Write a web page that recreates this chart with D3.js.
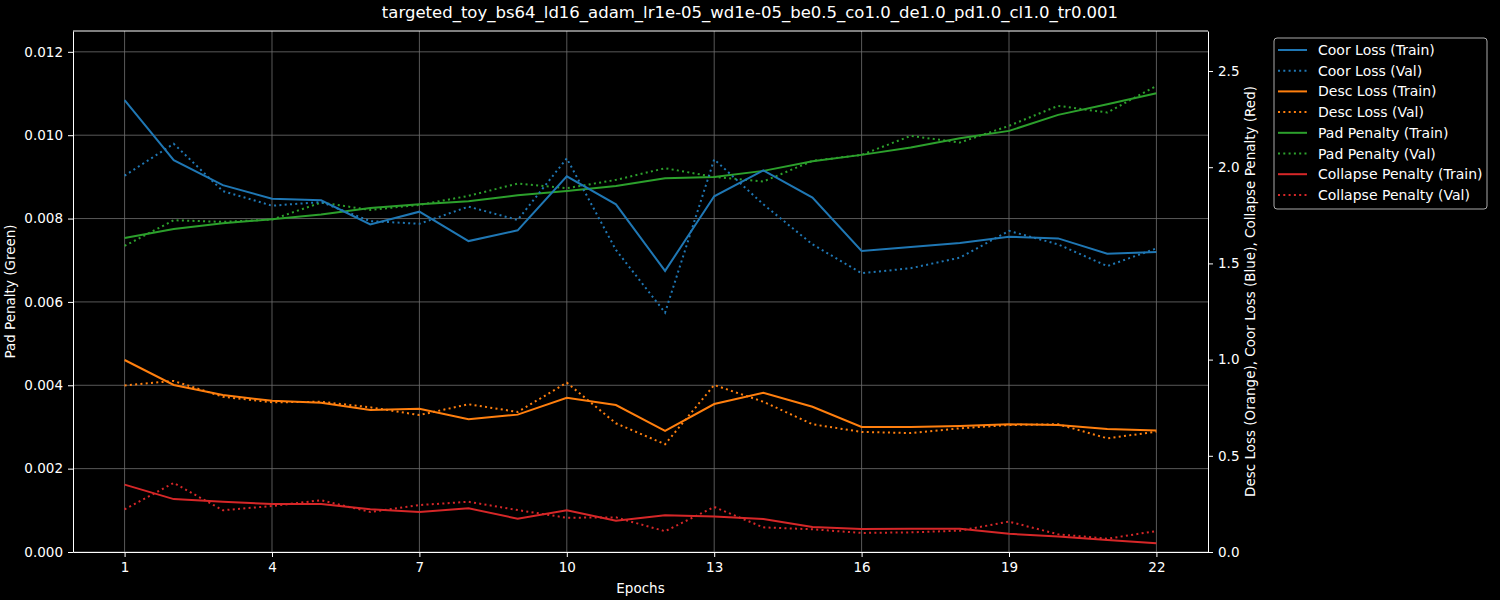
<!DOCTYPE html>
<html>
<head>
<meta charset="utf-8">
<title>targeted_toy losses</title>
<style>
  html, body { margin: 0; padding: 0; background: #000; }
  svg { display: block; font-family: "DejaVu Sans", sans-serif; }
</style>
</head>
<body>
<main></main>
<script src="https://d3js.org/d3.v7.min.js"></script>
<script>
// values
const epochs = d3.range(1, 23);
const coorTrain = [2.349, 2.037, 1.907, 1.836, 1.828, 1.703, 1.769, 1.616, 1.672, 1.953, 1.807,
  1.461, 1.849, 1.984, 1.842, 1.565, 1.585, 1.606, 1.639, 1.630, 1.550, 1.559];
const coorVal = [1.956, 2.122, 1.876, 1.800, 1.819, 1.720, 1.706, 1.795, 1.726, 2.046, 1.570,
  1.244, 2.041, 1.807, 1.599, 1.449, 1.475, 1.530, 1.669, 1.599, 1.486, 1.578];
const descTrain = [0.998, 0.868, 0.816, 0.786, 0.776, 0.738, 0.745, 0.690, 0.714, 0.802, 0.764,
  0.629, 0.769, 0.828, 0.755, 0.650, 0.650, 0.655, 0.664, 0.660, 0.639, 0.632];
const descVal = [0.866, 0.889, 0.807, 0.778, 0.781, 0.752, 0.712, 0.768, 0.728, 0.880, 0.669,
  0.560, 0.868, 0.781, 0.664, 0.624, 0.618, 0.643, 0.660, 0.664, 0.591, 0.625];
const padTrain = [0.007536, 0.007752, 0.007888, 0.007984, 0.008096, 0.008256, 0.008344, 0.008416,
  0.008560, 0.008664, 0.008784, 0.008968, 0.009000, 0.009144, 0.009376, 0.009528, 0.009704,
  0.009928, 0.010104, 0.010488, 0.010744, 0.011008];
const padVal = [0.007344, 0.007960, 0.007920, 0.007976, 0.008384, 0.008208, 0.008328, 0.008544,
  0.008840, 0.008728, 0.008928, 0.009208, 0.009000, 0.008888, 0.009384, 0.009528, 0.009984,
  0.009824, 0.010224, 0.010704, 0.010544, 0.011184];
const collapseTrain = [0.350, 0.275, 0.261, 0.249, 0.249, 0.222, 0.208, 0.227, 0.173, 0.217, 0.163,
  0.191, 0.184, 0.172, 0.130, 0.120, 0.121, 0.121, 0.095, 0.080, 0.062, 0.045];
const collapseVal = [0.222, 0.359, 0.217, 0.239, 0.269, 0.208, 0.244, 0.261, 0.218, 0.178, 0.180,
  0.108, 0.234, 0.128, 0.118, 0.099, 0.102, 0.111, 0.158, 0.092, 0.069, 0.109];

const xTicks = [1, 4, 7, 10, 13, 16, 19, 22];
const leftTicks = [0, 0.002, 0.004, 0.006, 0.008, 0.010, 0.012];
const rightTicks = [0, 0.5, 1.0, 1.5, 2.0, 2.5];

const width = 1500, height = 600;
const m = {left: 73, right: 292, top: 31, bottom: 48};

const x = d3.scaleLinear().domain([1 - 1.05, 22 + 1.05]).range([m.left, width - m.right]);
const yL = d3.scaleLinear().domain([0, 0.0125]).range([height - m.bottom, m.top]);
const yR = d3.scaleLinear().domain([0, 2.708]).range([height - m.bottom, m.top]);

const svg = d3.select("main").append("svg")
  .attr("width", width).attr("height", height)
  .style("background", "#000");

// grid
const grid = svg.append("g").attr("stroke", "#707070").attr("stroke-width", 0.8);
grid.selectAll("line.v").data(xTicks).join("line")
  .attr("x1", d => x(d)).attr("x2", d => x(d))
  .attr("y1", m.top).attr("y2", height - m.bottom);
grid.selectAll("line.h").data(leftTicks).join("line")
  .attr("x1", m.left).attr("x2", width - m.right)
  .attr("y1", d => yL(d)).attr("y2", d => yL(d));

const series = [
  {name: "Pad Penalty (Train)", data: padTrain, color: "#2ca02c", dot: false, y: yL},
  {name: "Pad Penalty (Val)", data: padVal, color: "#2ca02c", dot: true, y: yL},
  {name: "Coor Loss (Train)", data: coorTrain, color: "#1f77b4", dot: false, y: yR},
  {name: "Coor Loss (Val)", data: coorVal, color: "#1f77b4", dot: true, y: yR},
  {name: "Desc Loss (Train)", data: descTrain, color: "#ff7f0e", dot: false, y: yR},
  {name: "Desc Loss (Val)", data: descVal, color: "#ff7f0e", dot: true, y: yR},
  {name: "Collapse Penalty (Train)", data: collapseTrain, color: "#d62728", dot: false, y: yR},
  {name: "Collapse Penalty (Val)", data: collapseVal, color: "#d62728", dot: true, y: yR}
];

const lines = svg.append("g");
series.forEach(s => {
  const line = d3.line().x((d, i) => x(epochs[i])).y(d => s.y(d));
  lines.append("path")
    .datum(s.data)
    .attr("fill", "none")
    .attr("stroke", s.color)
    .attr("stroke-width", 2)
    .attr("stroke-dasharray", s.dot ? "2,3.3" : null)
    .attr("d", line);
});

// axes
const fmtL = d3.format(".3f"), fmtR = d3.format(".1f");
const axStyle = g => {
  g.selectAll("path, line").attr("stroke", "#fff");
  g.selectAll("text").attr("fill", "#fff").style("font-size", "13.5px")
    .style("font-family", "DejaVu Sans, sans-serif");
};
svg.append("g")
  .attr("transform", `translate(0,${height - m.bottom})`)
  .call(d3.axisBottom(x).tickValues(xTicks).tickSize(5).tickPadding(5).tickSizeOuter(0))
  .call(axStyle);
svg.append("g")
  .attr("transform", `translate(${m.left},0)`)
  .call(d3.axisLeft(yL).tickValues(leftTicks).tickFormat(fmtL).tickSize(5).tickPadding(5).tickSizeOuter(0))
  .call(axStyle);
svg.append("g")
  .attr("transform", `translate(${width - m.right},0)`)
  .call(d3.axisRight(yR).tickValues(rightTicks).tickFormat(fmtR).tickSize(5).tickPadding(5).tickSizeOuter(0))
  .call(axStyle);
// top spine
svg.append("line")
  .attr("x1", m.left).attr("x2", width - m.right)
  .attr("y1", m.top).attr("y2", m.top).attr("stroke", "#fff");

// labels
svg.append("text")
  .attr("x", width / 2).attr("y", 18)
  .attr("text-anchor", "middle").attr("fill", "#fff").style("font-size", "16.5px")
  .text("targeted_toy_bs64_ld16_adam_lr1e-05_wd1e-05_be0.5_co1.0_de1.0_pd1.0_cl1.0_tr0.001");
svg.append("text")
  .attr("x", (m.left + width - m.right) / 2).attr("y", 593)
  .attr("text-anchor", "middle").attr("fill", "#fff").style("font-size", "13.5px")
  .text("Epochs");
svg.append("text")
  .attr("transform", `translate(15,${(m.top + height - m.bottom) / 2}) rotate(-90)`)
  .attr("text-anchor", "middle").attr("fill", "#fff").style("font-size", "13.5px")
  .text("Pad Penalty (Green)");
svg.append("text")
  .attr("transform", `translate(1255,${(m.top + height - m.bottom) / 2}) rotate(-90)`)
  .attr("text-anchor", "middle").attr("fill", "#fff").style("font-size", "13.5px")
  .text("Desc Loss (Orange), Coor Loss (Blue), Collapse Penalty (Red)");

// legend
const legendOrder = [2, 3, 4, 5, 0, 1, 6, 7].map(i => series[i]);
const lg = svg.append("g").attr("transform", "translate(1274,38)");
lg.append("rect")
  .attr("width", 213).attr("height", 171).attr("rx", 3)
  .attr("fill", "#000").attr("fill-opacity", 0.8)
  .attr("stroke", "#aaa").attr("stroke-width", 1);
const item = lg.selectAll("g.item").data(legendOrder).join("g")
  .attr("transform", (d, i) => `translate(0,${12 + i * 20.7})`);
item.append("line")
  .attr("x1", 4).attr("x2", 33).attr("y1", 0).attr("y2", 0)
  .attr("stroke", d => d.color).attr("stroke-width", 2)
  .attr("stroke-dasharray", d => d.dot ? "2,3.3" : null);
item.append("text")
  .attr("x", 44).attr("y", 5).attr("fill", "#fff").style("font-size", "14px")
  .text(d => d.name);
</script>
</body>
</html>
